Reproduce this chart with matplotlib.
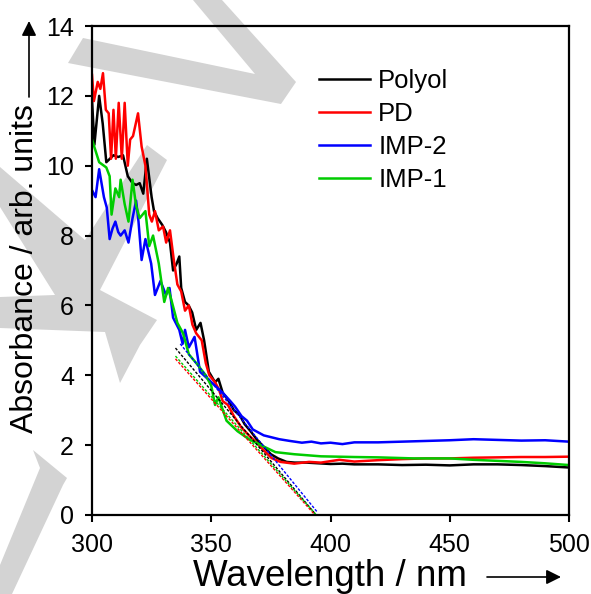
#!/usr/bin/env python3
"""
UV-vis absorbance spectra with band-edge fits (Polyol / PD / IMP-2 / IMP-1)
"""

import matplotlib
matplotlib.use("Agg")
import matplotlib.pyplot as plt
from matplotlib.patches import Polygon

plt.rcParams['font.family'] = ['Liberation Sans', 'DejaVu Sans']

# --- spectra (wavelength in nm, absorbance in arb. units) ---
polyol_wl = [300, 301, 303, 304.5, 306, 307.5, 309, 311, 313, 315, 317, 318.5, 320, 321.5,
             323, 325, 326, 327.5, 329.5, 331, 332.7, 334, 335.5, 336.6, 337.4, 339, 340.5,
             342, 343.7, 345.5, 347, 349, 351.6, 353, 354.8, 357, 359.5, 362, 364, 366.5,
             369, 372, 375, 378, 381.6, 385, 390, 395, 400, 405, 410, 420, 430, 440, 450,
             460, 470, 480, 490, 500]
polyol_abs = [11.9, 10.6, 12.0, 11.2, 10.1, 10.2, 10.3, 10.25, 10.3, 9.7, 9.5, 9.45, 9.5, 9.2,
              10.2, 9.1, 8.7, 8.5, 8.3, 8.1, 7.8, 7.0, 7.2, 7.4, 6.5, 6.1, 6.0,
              5.8, 5.3, 5.5, 5.0, 4.1, 3.8, 3.9, 3.5, 3.3, 3.0, 2.85, 2.6, 2.4,
              2.17, 1.95, 1.74, 1.62, 1.52, 1.5, 1.5, 1.48, 1.46, 1.47, 1.45, 1.45, 1.43, 1.44, 1.42,
              1.45, 1.45, 1.43, 1.4, 1.36]

pd_wl = [300, 300.8, 302.4, 303.5, 304.6, 305.8, 307, 308, 309, 310, 311.2, 312.5, 313.7, 315,
         316, 317.2, 319.3, 320.8, 322.4, 324, 325.1, 326.4, 328, 329.8, 331.1, 332.7, 334.3,
         335.8, 337.4, 339, 340.6, 342.1, 343.7, 346, 347.7, 349.2, 351.6, 353.2, 354.8, 357,
         359.5, 362.7, 365.8, 369, 372, 375.3, 379, 384.8, 391, 396, 403.7, 410, 420, 430,
         440, 450, 460, 470, 480, 490, 500]
pd_abs = [12.6, 11.85, 12.4, 12.2, 12.65, 11.6, 11.5, 10.2, 11.6, 10.2, 11.8, 10.2, 11.8, 10.0,
          10.75, 10.85, 11.5, 10.55, 10.0, 8.6, 8.4, 8.7, 8.15, 8.26, 7.8, 8.15, 7.3,
          6.6, 6.4, 5.85, 6.0, 5.45, 5.2, 5.0, 4.35, 4.0, 3.8, 3.6, 3.26, 3.15,
          2.83, 2.5, 2.28, 2.07, 1.85, 1.63, 1.52, 1.47, 1.52, 1.5, 1.58, 1.53, 1.57, 1.6,
          1.62, 1.62, 1.64, 1.65, 1.66, 1.66, 1.67]

imp2_wl = [300, 301.5, 303, 305, 306.2, 307.4, 308.6, 309.8, 311, 312, 313.7, 315.3, 317, 318.5,
           319.5, 320.8, 322.4, 324.8, 326.4, 328.7, 331, 332.5, 334, 336.6, 338, 339, 340.6,
           343, 345.3, 348.5, 351.6, 354.8, 358, 360, 362.7, 365, 367.4, 372, 378.5, 383,
           388, 392, 396, 400, 405, 410, 420, 430, 440, 450, 460, 470, 480, 490, 500]
imp2_abs = [9.3, 9.1, 9.9, 9.1, 8.8, 7.9, 8.2, 8.4, 8.1, 8.0, 8.15, 7.8, 8.5, 9.0,
            8.4, 7.3, 7.9, 7.2, 6.3, 6.7, 6.3, 6.5, 5.65, 5.3, 4.9, 5.3, 4.8,
            5.1, 4.1, 3.9, 3.7, 3.5, 3.26, 3.1, 2.83, 2.7, 2.45, 2.28, 2.17, 2.12,
            2.07, 2.1, 2.05, 2.07, 2.03, 2.08, 2.08, 2.1, 2.12, 2.14, 2.17, 2.15, 2.13, 2.14, 2.1]

imp1_wl = [300, 303, 306, 307.4, 308.2, 309.8, 311.4, 312, 313.7, 315.3, 317, 318.5, 320, 322.4,
           324, 325.6, 328, 330.3, 331.9, 333.5, 335.8, 338.2, 340.6, 343.7, 347.7, 350, 351.6,
           353, 356.4, 361, 365.8, 372, 376.9, 384.8, 396, 410, 420, 435, 450, 460, 470,
           480, 490, 500]
imp1_abs = [10.75, 10.1, 9.95, 9.7, 8.6, 9.35, 9.1, 9.6, 8.9, 8.4, 9.6, 8.85, 8.5, 8.7,
            7.7, 8.0, 7.2, 6.1, 6.5, 6.1, 5.5, 5.2, 4.6, 4.35, 4.0, 3.7, 3.15,
            3.37, 2.7, 2.4, 2.17, 1.96, 1.8, 1.74, 1.68, 1.66, 1.65, 1.62, 1.62, 1.58, 1.55,
            1.52, 1.48, 1.43]

# linear band-edge fits: (start wl, start abs) -> (end wl, end abs)
fit_wl_start = [335, 335, 337, 335]
fit_abs_start = [4.78, 4.47, 4.9, 4.55]
fit_wl_end = [394, 393.5, 394.5, 393.8]
fit_abs_end = [0.0, 0.0, 0.08, 0.02]

labels = ['Polyol', 'PD', 'IMP-2', 'IMP-1']
colors = ['#000000', '#ff0000', '#0000ff', '#00cc00']

W, H = 591, 594

fig = plt.figure(figsize=(W / 100, H / 100), dpi=100)

# light grey watermark strokes in the background (pixel outlines)
watermark = [
    [(193, 0), (222, 0), (296, 82), (281, 104), (68, 63), (83, 38), (255, 74)],
    [(0, 167), (85, 240), (147, 145), (167, 160), (100, 290), (157, 320), (140, 345),
     (120, 383), (105, 332), (0, 328), (0, 297), (55, 295), (0, 207)],
    [(33, 450), (67, 478), (63, 485), (12, 594), (0, 594), (0, 565), (40, 468)],
]
for pts in watermark:
    fig.patches.append(Polygon([(x / W, 1 - y / H) for x, y in pts], closed=True,
                               transform=fig.transFigure, facecolor='#d3d3d3',
                               edgecolor='none', zorder=-5))

ax = fig.add_axes([92 / W, 1 - 515 / H, 477 / W, 489 / H])
ax.patch.set_alpha(0)

series = [(polyol_wl, polyol_abs), (pd_wl, pd_abs), (imp2_wl, imp2_abs), (imp1_wl, imp1_abs)]
for (wl, ab), lab, c in zip(series, labels, colors):
    ax.plot(wl, ab, color=c, lw=1.8, label=lab)

for i, c in enumerate(colors):
    ax.plot([fit_wl_start[i], fit_wl_end[i]], [fit_abs_start[i], fit_abs_end[i]],
            color=c, lw=1.0, linestyle=(0, (2, 1.2)))

ax.set_xlim(300, 500)
ax.set_ylim(0, 14)
ax.set_xticks([300, 350, 400, 450, 500])
ax.set_yticks([0, 2, 4, 6, 8, 10, 12, 14])
ax.tick_params(direction='out', length=5, width=1.5, pad=8, labelsize=18,
               top=False, right=False)
for sp in ax.spines.values():
    sp.set_linewidth(1.6)

ax.legend(loc='upper left', bbox_to_anchor=(0.476, 0.913), frameon=False, fontsize=18.5,
          handlelength=2.0, handletextpad=0.3, labelspacing=0.36, borderpad=0,
          borderaxespad=0)

# axis titles with arrows
fig.text(330 / W, 1 - 586 / H, 'Wavelength / nm', fontsize=26.5, ha='center',
         va='baseline')
fig.text(25 / W, 1 - 269 / H, 'Absorbance / arb. units', fontsize=23, rotation=90,
         ha='center', va='center')

arrow = dict(arrowstyle='-|>', color='k', lw=1.2, mutation_scale=22, shrinkA=0, shrinkB=0)
ax.annotate('', xy=(561 / W, 1 - 577 / H), xytext=(487 / W, 1 - 577 / H),
            xycoords='figure fraction', textcoords='figure fraction', arrowprops=arrow)
ax.annotate('', xy=(29 / W, 1 - 21 / H), xytext=(29 / W, 1 - 97 / H),
            xycoords='figure fraction', textcoords='figure fraction', arrowprops=arrow)

plt.savefig('out.png', dpi=100)
